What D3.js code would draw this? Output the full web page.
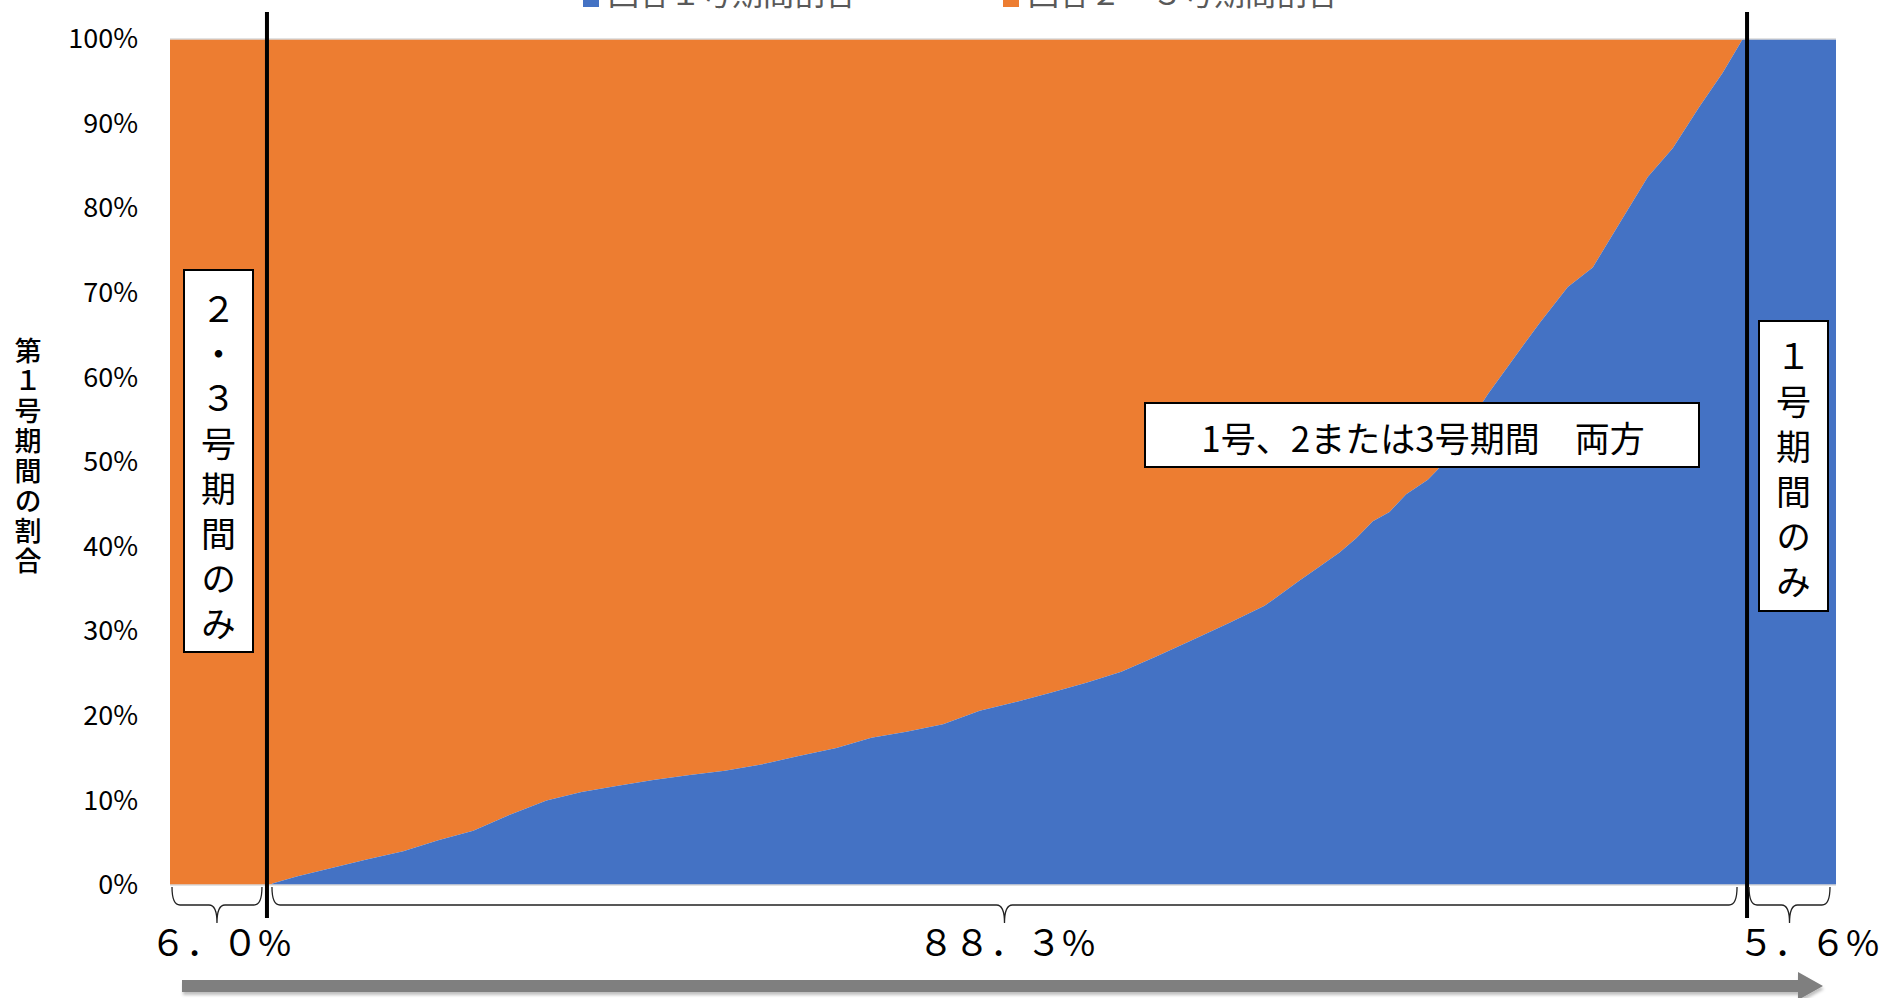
<!DOCTYPE html>
<html>
<head>
<meta charset="utf-8">
<script src="https://cdn.jsdelivr.net/npm/d3@7/dist/d3.min.js"></script>
<style>
  body { margin: 0; background: #fff; }
  svg { display: block; font-family: "Noto Sans CJK JP", "Noto Sans", sans-serif; }
</style>
</head>
<body>
<svg id="chart" width="1884" height="998"></svg>
<script>
// cumulative share of respondents (%), sorted by ratio of 1号 period
const respShare = [0, 6.0, 6.2, 7.6, 9.7, 11.8, 14.0, 16.1, 18.2, 20.4,
  22.6, 24.7, 26.8, 29.0, 31.2, 33.3, 35.4, 37.6, 38.8, 40.0,
  42.1, 44.2, 46.4, 48.6, 50.7, 52.8, 55.0, 57.1, 59.2, 61.4,
  63.6, 65.7, 67.8, 68.9, 70.2, 71.2, 72.2, 73.2, 74.2, 75.5,
  76.1, 77.6, 79.1, 80.6, 82.2, 83.9, 85.4, 87.0, 88.7, 90.2,
  91.8, 93.2, 94.4, 100];
// ratio of 1号 period (%)
const ratio1 = [0, 0, 0.2, 1.0, 2.0, 3.0, 4.0, 5.3, 6.4, 8.3,
  10.0, 11.0, 11.7, 12.4, 13.0, 13.5, 14.2, 15.2, 15.7, 16.2,
  17.4, 18.1, 19.0, 20.6, 21.6, 22.7, 23.9, 25.2, 27.0, 29.0,
  31.0, 33.0, 36.0, 37.5, 39.3, 41.0, 43.0, 44.1, 46.2, 47.9,
  49.1, 53.5, 58.0, 62.1, 66.4, 70.7, 73.0, 78.2, 83.7, 87.1,
  92.0, 96.0, 100, 100];

const yTicks = [0, 10, 20, 30, 40, 50, 60, 70, 80, 90, 100];
const legendLabels = ['回答１号期間割合', '回答２・３号期間割合'];
const segLabels = ['２・３号期間のみ', '1号、2または3号期間　両方', '１号期間のみ'];
const segShares = [6.0, 88.3, 5.6];
const yTitle = '第１号期間の割合';

const colors = ['#4472C4', '#ED7D31'];

const svg = d3.select('#chart');
const margin = { top: 39, right: 48, bottom: 113, left: 170 };
const W = 1884, H = 998;

const x = d3.scaleLinear().domain([0, 100]).range([margin.left, W - margin.right]);
const y = d3.scaleLinear().domain([0, 100]).range([H - margin.bottom, margin.top]);

const data = respShare.map((s, i) => ({ s, v: ratio1[i] }));

// orange = rest of the 100%
svg.append('path')
  .datum(data)
  .attr('fill', colors[1])
  .attr('d', d3.area().x(d => x(d.s)).y0(d => y(d.v)).y1(y(100)));

svg.append('path')
  .datum(data)
  .attr('fill', colors[0])
  .attr('d', d3.area().x(d => x(d.s)).y0(y(0)).y1(d => y(d.v)));

// light lines at top and bottom of plot
[0, 100].forEach(v => {
  svg.append('line')
    .attr('x1', x(0)).attr('x2', x(100))
    .attr('y1', y(v)).attr('y2', y(v))
    .attr('stroke', '#d9d9d9').attr('stroke-width', 1.5);
});

// y axis
const yAxis = svg.append('g')
  .attr('transform', `translate(${x(0)},0)`)
  .call(d3.axisLeft(y).tickValues(yTicks).tickFormat(d => d + '%').tickSize(0).tickPadding(32));
yAxis.select('.domain').remove();
yAxis.selectAll('text')
  .attr('font-size', 27)
  .attr('font-family', '"Noto Sans CJK JP", sans-serif')
  .attr('fill', '#000');

// y title, vertical
svg.append('text')
  .attr('x', 28).attr('y', 337)
  .attr('writing-mode', 'vertical-rl')
  .style('text-orientation', 'upright')
  .attr('font-size', 27)
  .attr('font-weight', 500)
  .attr('letter-spacing', 3)
  .attr('fill', '#000')
  .text(yTitle);

// legend (clipped at top)
const legendX = [583, 1003];
legendLabels.forEach((t, i) => {
  svg.append('rect')
    .attr('x', legendX[i]).attr('y', -9)
    .attr('width', 16).attr('height', 16)
    .attr('fill', colors[i]);
  svg.append('text')
    .attr('x', legendX[i] + 25).attr('y', 5)
    .attr('font-size', 31)
    .attr('fill', '#595959')
    .text(t);
});

// boundary lines
const lineAt = [5.82, 94.66];
lineAt.forEach(v => {
  svg.append('line')
    .attr('x1', x(v)).attr('x2', x(v))
    .attr('y1', 12).attr('y2', 918)
    .attr('stroke', '#000').attr('stroke-width', 4);
});

// vertical text boxes
function vBox(x0, y0, w, h, label, yStart) {
  svg.append('rect')
    .attr('x', x0).attr('y', y0).attr('width', w).attr('height', h)
    .attr('fill', '#fff').attr('stroke', '#000').attr('stroke-width', 2);
  svg.append('text')
    .attr('x', x0 + w / 2).attr('y', yStart)
    .attr('writing-mode', 'vertical-rl')
    .style('text-orientation', 'upright')
    .attr('font-size', 35)
    .attr('letter-spacing', 10)
    .attr('fill', '#000')
    .text(label);
}
vBox(184, 270, 69, 382, segLabels[0], 291);
vBox(1759, 321, 69, 290, segLabels[2], 339);

// middle box
svg.append('rect')
  .attr('x', 1145).attr('y', 403).attr('width', 554).attr('height', 64)
  .attr('fill', '#fff').attr('stroke', '#000').attr('stroke-width', 2);
svg.append('text')
  .attr('x', 1423).attr('y', 436)
  .attr('text-anchor', 'middle')
  .attr('dominant-baseline', 'central')
  .attr('font-size', 35)
  .attr('fill', '#000')
  .text(segLabels[1]);

// curly braces under the plot
function brace(x0, x1, xm) {
  const top = 887, mid = 905, tip = 923, r = 8;
  const p = d3.path();
  p.moveTo(x0, top);
  p.quadraticCurveTo(x0, mid, x0 + r, mid);
  p.lineTo(xm - r, mid);
  p.quadraticCurveTo(xm, mid, xm, tip);
  p.quadraticCurveTo(xm, mid, xm + r, mid);
  p.lineTo(x1 - r, mid);
  p.quadraticCurveTo(x1, mid, x1, top);
  svg.append('path').attr('d', p.toString())
    .attr('fill', 'none').attr('stroke', '#222').attr('stroke-width', 1.3);
}
const toZen = s => s.replace(/[0-9.]/g, c => c === '.' ? '．' : String.fromCharCode(c.charCodeAt(0) + 0xFEE0));
const bounds = [0, segShares[0], segShares[0] + segShares[1], 100];
const braceInset = [[2, 8], [2, 4], [8, 6]];
const labelX = [150, 918, 1738];
bounds.slice(0, 3).forEach((b, i) => {
  const x0 = x(b) + braceInset[i][0], x1 = x(bounds[i + 1]) - braceInset[i][1];
  brace(x0, x1, (x0 + x1) / 2);
  svg.append('text')
    .attr('x', labelX[i]).attr('y', 956)
    .attr('font-size', 36)
    .attr('fill', '#000')
    .text(toZen(segShares[i].toFixed(1)) + '%');
});

// gray arrow at the bottom
const defs = svg.append('defs');
const f = defs.append('filter').attr('id', 'sh').attr('x', '-5%').attr('y', '-50%').attr('width', '110%').attr('height', '200%');
f.append('feDropShadow').attr('dx', 1).attr('dy', 3).attr('stdDeviation', 1.5).attr('flood-color', '#000').attr('flood-opacity', 0.25);
const ap = d3.path();
ap.moveTo(182, 980); ap.lineTo(1798, 980); ap.lineTo(1798, 972);
ap.lineTo(1823, 986); ap.lineTo(1798, 1000); ap.lineTo(1798, 992);
ap.lineTo(182, 992); ap.closePath();
svg.append('path').attr('d', ap.toString())
  .attr('fill', '#7f7f7f').attr('filter', 'url(#sh)');
</script>
</body>
</html>
